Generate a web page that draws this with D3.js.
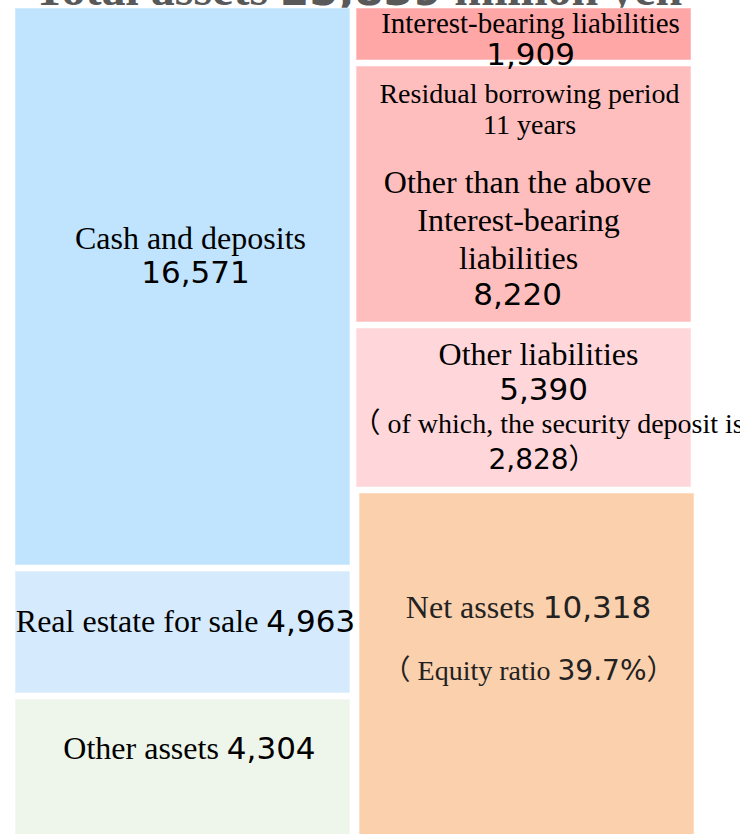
<!DOCTYPE html>
<html>
<head>
<meta charset="utf-8">
<script src="https://cdn.jsdelivr.net/npm/d3@7"></script>
<style>
body { margin: 0; background: #fff; }
svg { display: block; overflow: visible; }
</style>
</head>
<body>
<div class="canva"></div>
<script>
// values in million yen
const totalAssets = 25839;
const assetCats = ['Cash and deposits', 'Real estate for sale', 'Other assets'];
const assetValues = [16571, 4963, 4304];
const liabCats = ['Interest-bearing liabilities', 'Other than the above Interest-bearing liabilities', 'Other liabilities', 'Net assets'];
const liabValues = [1909, 8220, 5390, 10318];
const residualYears = 11;
const securityDeposit = 2828;
const equityRatio = 39.7;

// layout - the boxes in the original are not drawn to scale
const assetHeights = [557, 122, 140];
const liabHeights = [52, 256, 159, 345];
const liabNudge = [0, 0, 0, 3];
const assetColors = ['#c1e4fe', '#d5ebfd', '#eef5ea'];
const liabColors = ['#ffa7a7', '#ffbebe', '#ffd7da', '#fbd0ad'];

const SERIF = '"Liberation Serif", "Times New Roman", serif';
const NUM = '"DejaVu Sans", Verdana, sans-serif';
const CJK = '"Noto Sans CJK JP", sans-serif';
const fmt = d3.format(',');

const W = 740, H = 834, topY = 8, gap = 6;

const svg = d3.select('.canva').append('svg')
  .attr('width', W)
  .attr('height', H);

const x = d3.scaleBand()
  .domain(['assets', 'liabilities'])
  .range([15, 691])
  .paddingInner(0.018);

function stack(heights) {
  let y = topY;
  return heights.map(h => { const r = {y0: y, y1: y + h}; y += h + gap; return r; });
}

const assetBoxes = stack(assetHeights).map((b, i) => ({
  ...b, col: 'assets', name: assetCats[i], value: assetValues[i], color: assetColors[i], nudge: 0
}));
const liabBoxes = stack(liabHeights).map((b, i) => ({
  ...b, col: 'liabilities', name: liabCats[i], value: liabValues[i], color: liabColors[i], nudge: liabNudge[i]
}));
const boxes = assetBoxes.concat(liabBoxes);

// title (sits mostly above the top edge, like in the original)
svg.append('text')
  .attr('x', 358)
  .attr('y', 5)
  .attr('text-anchor', 'middle')
  .attr('fill', '#595959')
  .attr('font-weight', 'bold')
  .call(t => {
    t.append('tspan').attr('font-family', SERIF).attr('font-size', 48).text('Total assets ');
    t.append('tspan').attr('font-family', NUM).attr('font-size', 42).text(fmt(totalAssets));
    t.append('tspan').attr('font-family', SERIF).attr('font-size', 48).text(' million yen');
  });

svg.selectAll('rect.box')
  .data(boxes)
  .enter()
  .append('rect')
  .attr('class', 'box')
  .attr('x', d => x(d.col) + d.nudge)
  .attr('y', d => d.y0)
  .attr('width', x.bandwidth())
  .attr('height', d => d.y1 - d.y0)
  .attr('fill', d => d.color)
  .attr('stroke', '#fff')
  .attr('stroke-opacity', 0.35)
  .attr('stroke-width', 1.5);

// label lines: [text, font, size] segments, placed relative to box centre / top
const serif = (t, s) => [t, SERIF, s];
const num = (t, s) => [t, NUM, s];
const cjk = (t, s) => [t, CJK, s];

const labels = [
  [ {dx: 8, dy: 241, segs: [serif(assetCats[0], 32)]},
    {dx: 13, dy: 275, segs: [num(fmt(assetValues[0]), 31)]} ],
  [ {dx: 3, dy: 61, segs: [serif(assetCats[1] + ' ', 32), num(fmt(assetValues[1]), 31)]} ],
  [ {dx: 7, dy: 60, segs: [serif(assetCats[2] + ' ', 32), num(fmt(assetValues[2]), 31)]} ],
  [ {dx: 7, dy: 25, segs: [serif(liabCats[0], 29)]},
    {dx: 7, dy: 57, segs: [num(fmt(liabValues[0]), 31)]} ],
  [ {dx: 6, dy: 37, segs: [serif('Residual borrowing period', 28)]},
    {dx: 6, dy: 68, segs: [serif(residualYears + ' years', 28)]},
    {dx: -6, dy: 127, segs: [serif('Other than the above', 32)]},
    {dx: -5, dy: 165, segs: [serif('Interest-bearing', 32)]},
    {dx: -5, dy: 203, segs: [serif('liabilities', 32)]},
    {dx: -6, dy: 239, segs: [num(fmt(liabValues[1]), 31)]} ],
  [ {dx: 15, dy: 37, segs: [serif(liabCats[2], 32)]},
    {dx: 20, dy: 72, segs: [num(fmt(liabValues[2]), 31)]},
    {dx: -171, dy: 105, anchor: 'start', segs: [cjk('\uFF08', 28), serif(' of which, the security deposit is', 28)]},
    {dx: 19, dy: 141, segs: [num(fmt(securityDeposit), 28), cjk('\uFF09', 28)]} ],
  [ {dx: 2, dy: 125, segs: [serif(liabCats[3] + ' ', 32), num(fmt(liabValues[3]), 31)]},
    {dx: 2, dy: 187, segs: [cjk('\uFF08', 28), serif(' Equity ratio ', 28), num(equityRatio + '%', 28), cjk('\uFF09', 28)]} ]
];

boxes.forEach((b, i) => {
  const cx = x(b.col) + b.nudge + x.bandwidth() / 2;
  labels[i].forEach(line => {
    const t = svg.append('text')
      .attr('x', cx + line.dx)
      .attr('y', b.y0 + line.dy)
      .attr('text-anchor', line.anchor || 'middle')
      .attr('fill', i === 6 ? '#222' : '#000');
    line.segs.forEach(s => {
      t.append('tspan')
        .attr('font-family', s[1])
        .attr('font-size', s[2])
        .text(s[0]);
    });
  });
});
</script>
</body>
</html>
